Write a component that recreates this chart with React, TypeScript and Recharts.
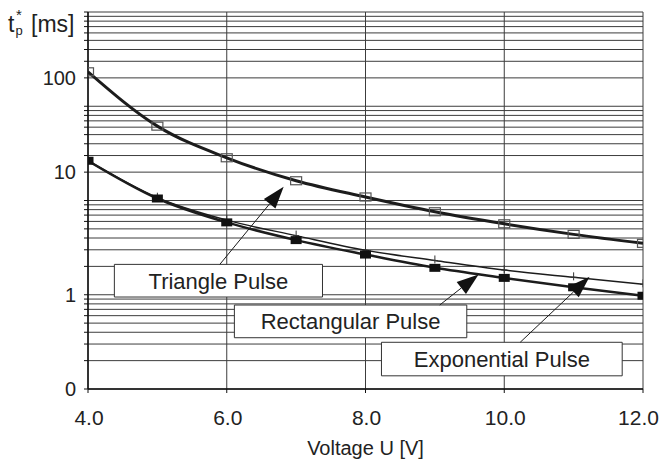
import React from 'react';
import {
  LineChart,
  Line,
  XAxis,
  YAxis,
  CartesianGrid,
  ReferenceArea,
  ReferenceLine,
} from 'recharts';

// ---- data ----
const voltages = [4, 5, 6, 7, 8, 9, 10, 11, 12];
const trianglePulse = [232, 61.5, 28.4, 16.2, 10.9, 7.6, 5.66, 4.37, 3.51];
const rectangularPulse = [26.4, 10.5, 5.86, 3.8, 2.67, 1.93, 1.51, 1.2, 0.976];
const exponentialPulse = [26.4, 10.7, 6.19, 4.24, 2.96, 2.31, 1.83, 1.53, 1.29];

const xTicks = [4, 6, 8, 10, 12];
// every horizontal grid line of the logarithmic axis
const yGridValues = [
  0.1, 0.2, 0.3, 0.4, 0.5, 0.6, 0.7, 0.8, 0.9,
  1, 2, 3, 4, 5, 6, 7, 8, 9,
  10, 20, 30, 40, 50, 60, 70, 80, 90,
  100, 200, 300, 400, 500, 600, 700, 800, 900,
  1000,
];
// labelled grid lines and the text printed next to them
const yLabelValues = [0.1, 1, 20, 200];
const yLabelTexts = ['0', '1', '10', '100'];

// annotation boxes (voltage / time extents) and their arrows
const boxNames = ['Triangle Pulse', 'Rectangular Pulse', 'Exponential Pulse'];
const boxU1 = [4.38, 6.11, 8.23];
const boxU2 = [7.38, 9.46, 11.7];
const boxTop = [2.1, 0.778, 0.313];
const boxBottom = [0.946, 0.35, 0.138];
const arrowFromU = [5.9, 9.07, 10.23];
const arrowFromT = [2.1, 0.778, 0.313];
const arrowToU = [6.82, 9.63, 11.23];
const arrowToT = [13.97, 1.645, 1.552];

const data = voltages.map((u, i) => ({
  u,
  triangle: trianglePulse[i],
  rectangular: rectangularPulse[i],
  exponential: exponentialPulse[i],
}));

const FONT = "'Liberation Sans', Arial, Helvetica, sans-serif";
const INK = '#1c1c1c';
const CHART_W = 661;

const OpenSquare = (p: any) => (
  <rect
    key={`o-${p.index}`}
    x={p.cx - 5.5}
    y={p.cy - 4}
    width={11}
    height={8}
    fill="none"
    stroke="#555"
    strokeWidth={1.2}
  />
);

const FilledSquare = (p: any) => (
  <rect
    key={`f-${p.index}`}
    x={p.cx - 5.5}
    y={p.cy - 4}
    width={11}
    height={8}
    fill="#111"
    stroke="none"
  />
);

const PlusMark = (p: any) => (
  <g key={`p-${p.index}`}>
    <line x1={p.cx} y1={p.cy - 5} x2={p.cx} y2={p.cy + 3} stroke="#333" strokeWidth={1} />
    <line x1={p.cx - 3} y1={p.cy} x2={p.cx + 3} y2={p.cy} stroke="#333" strokeWidth={1} />
  </g>
);

const ArrowShape = (p: any) => {
  const { x1, y1, x2, y2 } = p;
  const dx = x2 - x1;
  const dy = y2 - y1;
  const len = Math.sqrt(dx * dx + dy * dy) || 1;
  const ux = dx / len;
  const uy = dy / len;
  const head = 22;
  const half = 7.5;
  const bx = x2 - ux * head;
  const by = y2 - uy * head;
  const nx = -uy;
  const ny = ux;
  const pts = `${x2},${y2} ${bx + nx * half},${by + ny * half} ${bx - nx * half},${by - ny * half}`;
  return (
    <g>
      <line x1={x1} y1={y1} x2={bx} y2={by} stroke={INK} strokeWidth={1} />
      <polygon points={pts} fill="#111" stroke="none" />
    </g>
  );
};

const XTick = (p: any) => {
  const { x, y, payload } = p;
  const label = Number(payload.value).toFixed(1);
  const fs = 21;
  const w = label.length === 4 ? 40.9 : 29.2;
  const cx = Math.min(x + 1, CHART_W - 2 - w / 2);
  return (
    <text
      x={cx}
      y={y}
      dy="0.71em"
      textAnchor="middle"
      fontSize={fs}
      fill="#222"
      fontFamily={FONT}
    >
      {label}
    </text>
  );
};

const yTickFormatter = (v: number) => {
  const idx = yLabelValues.findIndex((t) => Math.abs(t - v) < 1e-9);
  return idx >= 0 ? yLabelTexts[idx] : '';
};

export default function App() {
  return (
    <div
      style={{
        position: 'absolute',
        left: 0,
        top: 0,
        width: 661,
        height: 463,
        background: '#fff',
        fontFamily: FONT,
      }}
    >
      <LineChart
        width={661}
        height={463}
        data={data}
        margin={{ top: 12, right: 18, left: 0, bottom: 0 }}
      >
        <CartesianGrid stroke="#3c3c3c" strokeWidth={1} />
        <XAxis
          dataKey="u"
          type="number"
          domain={[4, 12]}
          ticks={xTicks}
          interval={0}
          allowDataOverflow
          tick={XTick}
          tickSize={4}
          tickMargin={17}
          height={74}
          stroke="#111"
          axisLine={{ stroke: '#111', strokeWidth: 1.5 }}
          label={{
            value: 'Voltage U [V]',
            position: 'insideBottom',
            offset: 8,
            fontSize: 20,
            fill: '#222',
            fontFamily: FONT,
          }}
        />
        <YAxis
          type="number"
          scale="log"
          domain={[0.1, 1000]}
          allowDataOverflow
          ticks={yGridValues}
          interval={0}
          tickFormatter={yTickFormatter}
          tick={{ fontSize: 20, fill: '#222', fontFamily: FONT }}
          tickSize={4}
          tickMargin={8}
          width={88}
          stroke="#111"
          axisLine={{ stroke: '#111', strokeWidth: 1.5 }}
        />
        {boxNames.map((name, i) => (
          <ReferenceArea
            key={name}
            x1={boxU1[i]}
            x2={boxU2[i]}
            y1={boxBottom[i]}
            y2={boxTop[i]}
            fill="#fff"
            fillOpacity={1}
            stroke="#333"
            strokeWidth={1}
            label={{
              value: name,
              position: 'center',
              fontSize: 22,
              fill: '#222',
              fontFamily: FONT,
            }}
          />
        ))}
        <Line
          dataKey="exponential"
          type="monotone"
          stroke={INK}
          strokeWidth={1.5}
          dot={PlusMark}
          activeDot={false}
          isAnimationActive={false}
        />
        <Line
          dataKey="rectangular"
          type="monotone"
          stroke={INK}
          strokeWidth={2.5}
          dot={FilledSquare}
          activeDot={false}
          isAnimationActive={false}
        />
        <Line
          dataKey="triangle"
          type="monotone"
          stroke={INK}
          strokeWidth={3}
          dot={OpenSquare}
          activeDot={false}
          isAnimationActive={false}
        />
        {boxNames.map((name, i) => (
          <ReferenceLine
            key={`arrow-${name}`}
            segment={[
              { x: arrowFromU[i], y: arrowFromT[i] },
              { x: arrowToU[i], y: arrowToT[i] },
            ]}
            shape={ArrowShape}
            ifOverflow="visible"
          />
        ))}
      </LineChart>
      <svg
        width={100}
        height={45}
        style={{ position: 'absolute', left: 0, top: 0 }}
      >
        <text fill="#222" fontFamily={FONT} fontSize={23}>
          <tspan x={8} y={32}>t</tspan>
          <tspan x={15.5} y={35} fontSize={13}>p</tspan>
          <tspan x={16} y={20} fontSize={15}>*</tspan>
          <tspan x={31} y={32}>[ms]</tspan>
        </text>
      </svg>
    </div>
  );
}
